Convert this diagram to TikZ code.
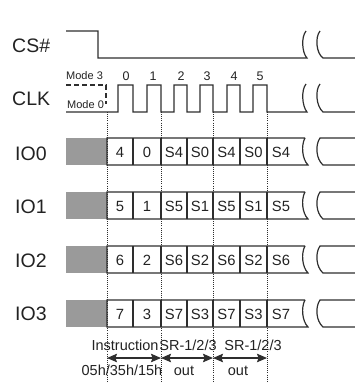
\documentclass[tikz,border=0pt]{standalone}
\usepackage{fontspec}
\setmainfont{Liberation Sans}
\usetikzlibrary{arrows.meta}
\definecolor{ln}{HTML}{2E2E2E}
\definecolor{gr}{HTML}{9A9A9A}
\definecolor{txt}{HTML}{222222}
\begin{document}
\begin{tikzpicture}[x=1pt,y=-1pt,
  sig/.style={draw=ln, line width=1.2pt, line join=miter},
  dotline/.style={draw=ln, line width=0.9pt, dash pattern=on 0.9pt off 1.2pt},
  lbl/.style={font=\fontsize{19.5}{21}\selectfont, inner sep=0, anchor=base west, text=txt},
  cell/.style={font=\fontsize{14.8}{16}\selectfont, inner sep=0, anchor=base, text=txt},
  num/.style={font=\fontsize{12.5}{14}\selectfont, inner sep=0, anchor=base, text=txt},
  modelbl/.style={font=\fontsize{11}{12}\selectfont, inner sep=0, anchor=base west, text=txt},
  bot/.style={font=\fontsize{14.5}{16}\selectfont, inner sep=0, anchor=base, text=txt},
  arr/.style={draw=ln, line width=1.2pt, {Stealth[length=10pt,width=8.5pt,inset=1.5pt]}-{Stealth[length=10pt,width=8.5pt,inset=1.5pt]}}]
\useasboundingbox (0,0) rectangle (355,383);

% signal labels
\node[lbl] (cs) at (12,52) {CS\#};
\node[lbl] (clk) at (12,105) {CLK};
\node[lbl] (io0) at (15,160) {IO0};
\node[lbl] (io1) at (15,213) {IO1};
\node[lbl] (io2) at (15,267) {IO2};
\node[lbl] (io3) at (15,320) {IO3};

% CS#
\draw[sig] (66,31) -- (98,31) -- (98,58) -- (307,58)
  .. controls (302,53) and (301,37) .. (306,31);
\draw[sig] (320,31) .. controls (315,37) and (316,53) .. (323,58) -- (355,58);

% CLK
\draw[sig, dash pattern=on 5pt off 3pt] (66,85) -- (106,85) -- (106,104);
\draw[sig] (66,112) -- (118,112) -- (118,85) -- (133,85) -- (133,112)
  -- (147,112) -- (147,85) -- (161,85) -- (161,112)
  -- (174,112) -- (174,85) -- (187,85) -- (187,112)
  -- (200,112) -- (200,85) -- (213,85) -- (213,112)
  -- (227,112) -- (227,85) -- (240,85) -- (240,112)
  -- (253,112) -- (253,85) -- (267,85) -- (267,112)
  -- (307,112) .. controls (302,106) and (301,90) .. (306,84);
\draw[sig] (320,84) .. controls (315,90) and (316,106) .. (323,112) -- (355,112);
\node[modelbl] (m3) at (66,79) {Mode 3};
\node[modelbl] (m0) at (67,108) {Mode 0};
\foreach \x/\t in {126/0,153/1,181/2,207/3,234/4,260/5}
  \node[num] (n\t) at (\x,80) {\t};

% data rows
\foreach \r/\a/\b in {0/4/0,1/5/1,2/6/2,3/7/3} {
  \pgfmathsetmacro{\T}{138+54*\r}
  \pgfmathsetmacro{\B}{\T+27}
  \pgfmathsetmacro{\M}{\T+19.5}
  \fill[gr] (66,\T) rectangle (107,\B);
  \draw[sig] (305,\T) -- (107,\T) -- (107,\B) -- (308,\B)
    .. controls (302,\B-6) and (301,\T+7) .. (305,\T);
  \draw[sig] (355,\T) -- (320,\T) .. controls (315,\T+7) and (316,\B-6) .. (323,\B) -- (355,\B);
  \foreach \x in {133,161,187,213,240,267}
    \draw[sig] (\x,\T) -- (\x,\B);
  \node[cell] (c\r a) at (120,\M) {\a};
  \node[cell] (c\r b) at (147,\M) {\b};
  \node[cell] (c\r c) at (174,\M) {S\a};
  \node[cell] (c\r d) at (200,\M) {S\b};
  \node[cell] (c\r e) at (226.5,\M) {S\a};
  \node[cell] (c\r f) at (253.5,\M) {S\b};
  \node[cell] (c\r g) at (281,\M) {S\a};
}

% dotted markers
\foreach \x/\n in {107/a,161/b,213/c,267/d} {
  \coordinate (t\n) at (\x,112);
  \coordinate (b\n) at (\x,383);
  \coordinate (p\n) at (\x,358);
  \draw[dotline] (t\n) -- (b\n);
}

% phase arrows
\draw[arr] (pa) -- (pb);
\draw[arr] (pb) -- (pc);
\draw[arr] (pc) -- (pd);

% bottom texts
\node[bot] (ins) at (125,350) {Instruction};
\node[bot] (sr1) at (188,350) {SR-1/2/3};
\node[bot] (sr2) at (253,350) {SR-1/2/3};
\node[bot] (hex) at (122,375) {05h/35h/15h};
\node[bot] (out1) at (184,375) {out};
\node[bot] (out2) at (238,375) {out};
\end{tikzpicture}
\end{document}
